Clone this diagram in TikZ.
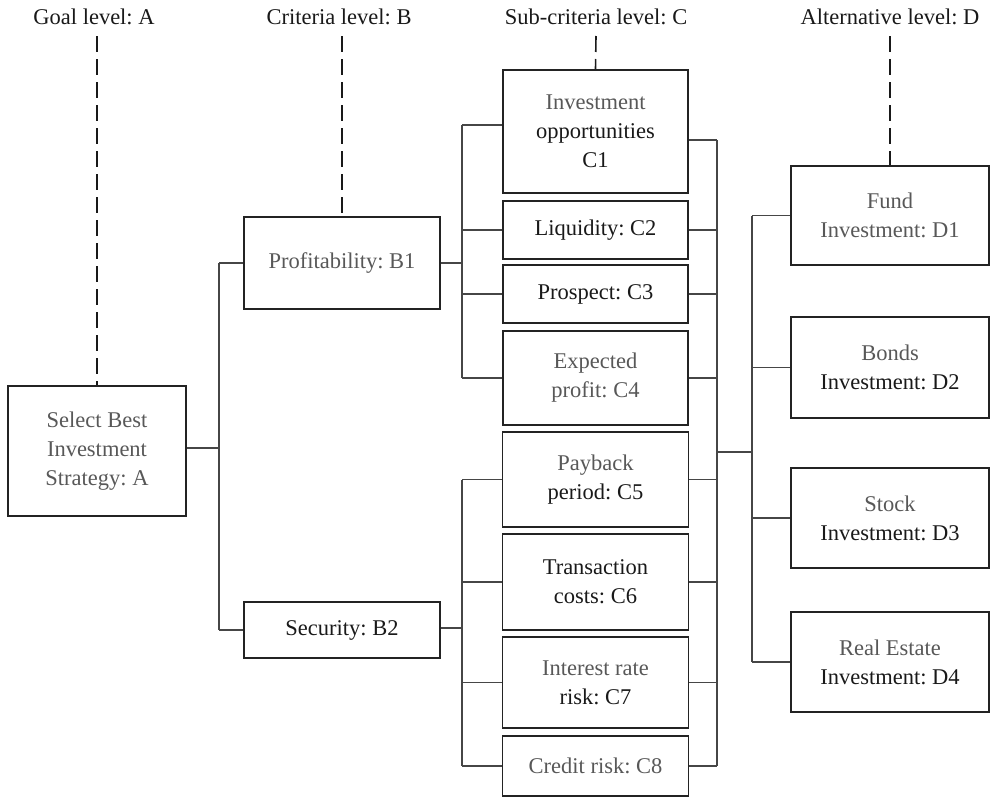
\documentclass[tikz,border=0pt]{standalone}
\usepackage{fontspec}
\setmainfont{Liberation Serif}
\frenchspacing
\definecolor{tg}{RGB}{88,88,88}
\definecolor{tb}{RGB}{25,25,25}
\definecolor{boxc}{RGB}{35,35,35}
\definecolor{linec}{RGB}{70,70,70}
\begin{document}
\begin{tikzpicture}[x=1pt,y=-1pt,
  font=\fontsize{22.5}{29}\selectfont\frenchspacing,
  box/.style={draw=boxc, line width=1.8pt, inner sep=0pt, align=center, text=tb},
  hdr/.style={anchor=base, text=tb, inner sep=0pt},
  conn/.style={draw=linec, line width=1.1pt},
  lvl/.style={draw=tb, line width=1.6pt, dash pattern=on 16pt off 7pt}]
\useasboundingbox (0,0) rectangle (990,798);
% headers
\node[hdr] (hA) at (94,24) {Goal level: A};
\node[hdr] (hB) at (339,24) {Criteria level: B};
\node[hdr] (hC) at (596,24) {Sub-criteria level: C};
\node[hdr] (hD) at (890,24) {Alternative level: D};
% nodes
\node[box, minimum width=178pt, minimum height=130pt] (A) at (97,451)
  {\color{tg}Select Best\\\color{tg}Investment\\\color{tg}Strategy: A};
\node[box, minimum width=196pt, minimum height=92pt] (B1) at (342,263)
  {\color{tg}Profitability: B1};
\node[box, minimum width=196pt, minimum height=56pt] (B2) at (342,630)
  {Security: B2};
\node[box, minimum width=185pt, minimum height=123pt] (C1) at (595.5,131.5)
  {\color{tg}Investment\\opportunities\\C1};
\node[box, minimum width=185pt, minimum height=58pt] (C2) at (595.5,230) {Liquidity: C2};
\node[box, minimum width=185pt, minimum height=58pt] (C3) at (595.5,294) {Prospect: C3};
\node[box, minimum width=185pt, minimum height=94pt] (C4) at (595.5,378)
  {\color{tg}Expected\\\color{tg}profit: C4};
\node[box, minimum width=186pt, minimum height=95pt] (C5) at (595.5,479.5)
  {\color{tg}Payback\\period: C5};
\node[box, minimum width=186pt, minimum height=96pt] (C6) at (595.5,582)
  {Transaction\\costs: C6};
\node[box, minimum width=186pt, minimum height=91pt] (C7) at (595.5,682.5)
  {\color{tg}Interest rate\\risk: C7};
\node[box, minimum width=186pt, minimum height=60pt] (C8) at (595.5,766)
  {\color{tg}Credit risk: C8};
\node[box, minimum width=198pt, minimum height=99pt] (D1) at (890,215.5)
  {\color{tg}Fund\\\color{tg}Investment: D1};
\node[box, minimum width=198pt, minimum height=101pt] (D2) at (890,367.5)
  {\color{tg}Bonds\\Investment: D2};
\node[box, minimum width=198pt, minimum height=100pt] (D3) at (890,518)
  {\color{tg}Stock\\Investment: D3};
\node[box, minimum width=198pt, minimum height=100pt] (D4) at (890,662)
  {\color{tg}Real Estate\\Investment: D4};
% level dashed lines
\draw[lvl] (97,36) -- (A.north);
\draw[lvl] (342,36) -- (B1.north);
\draw[lvl] (596,36) -- (C1.north);
\draw[lvl] (890,36) -- (D1.north);
% buses
\coordinate (busA) at (219,448);
\coordinate (busB1) at (462,263);
\coordinate (busB2) at (462,628);
\coordinate (busC) at (717,452);
\coordinate (busD) at (752,452);
% A to B
\draw[conn] (A.east |- busA) -- (busA);
\draw[conn] (busA |- B1.west) -- (busA |- B2.west);
\draw[conn] (busA |- B1.west) -- (B1.west);
\draw[conn] (busA |- B2.west) -- (B2.west);
% B1 to C1-C4
\draw[conn] (B1.east |- busB1) -- (busB1);
\draw[conn] (462,125) -- (busB1 |- C4.west);
\draw[conn] (462,125) -- (C1.west |- 0,125);
\foreach \c in {C2,C3,C4} \draw[conn] (busB1 |- \c.west) -- (\c.west);
% B2 to C5-C8
\draw[conn] (B2.east |- busB2) -- (busB2);
\draw[conn] (busB2 |- C5.west) -- (busB2 |- C8.west);
\foreach \c in {C5,C6,C7,C8} \draw[conn] (busB2 |- \c.west) -- (\c.west);
% C to bus
\draw[conn] (C1.east |- 0,140) -- (717,140);
\foreach \c in {C2,C3,C4,C5,C6,C7,C8} \draw[conn] (\c.east) -- (busC |- \c.east);
\draw[conn] (717,140) -- (busC |- C8.east);
\draw[conn] (busC) -- (busD);
% bus to D
\draw[conn] (busD |- D1.west) -- (busD |- D4.west);
\foreach \d in {D1,D2,D3,D4} \draw[conn] (busD |- \d.west) -- (\d.west);
\end{tikzpicture}
\end{document}
